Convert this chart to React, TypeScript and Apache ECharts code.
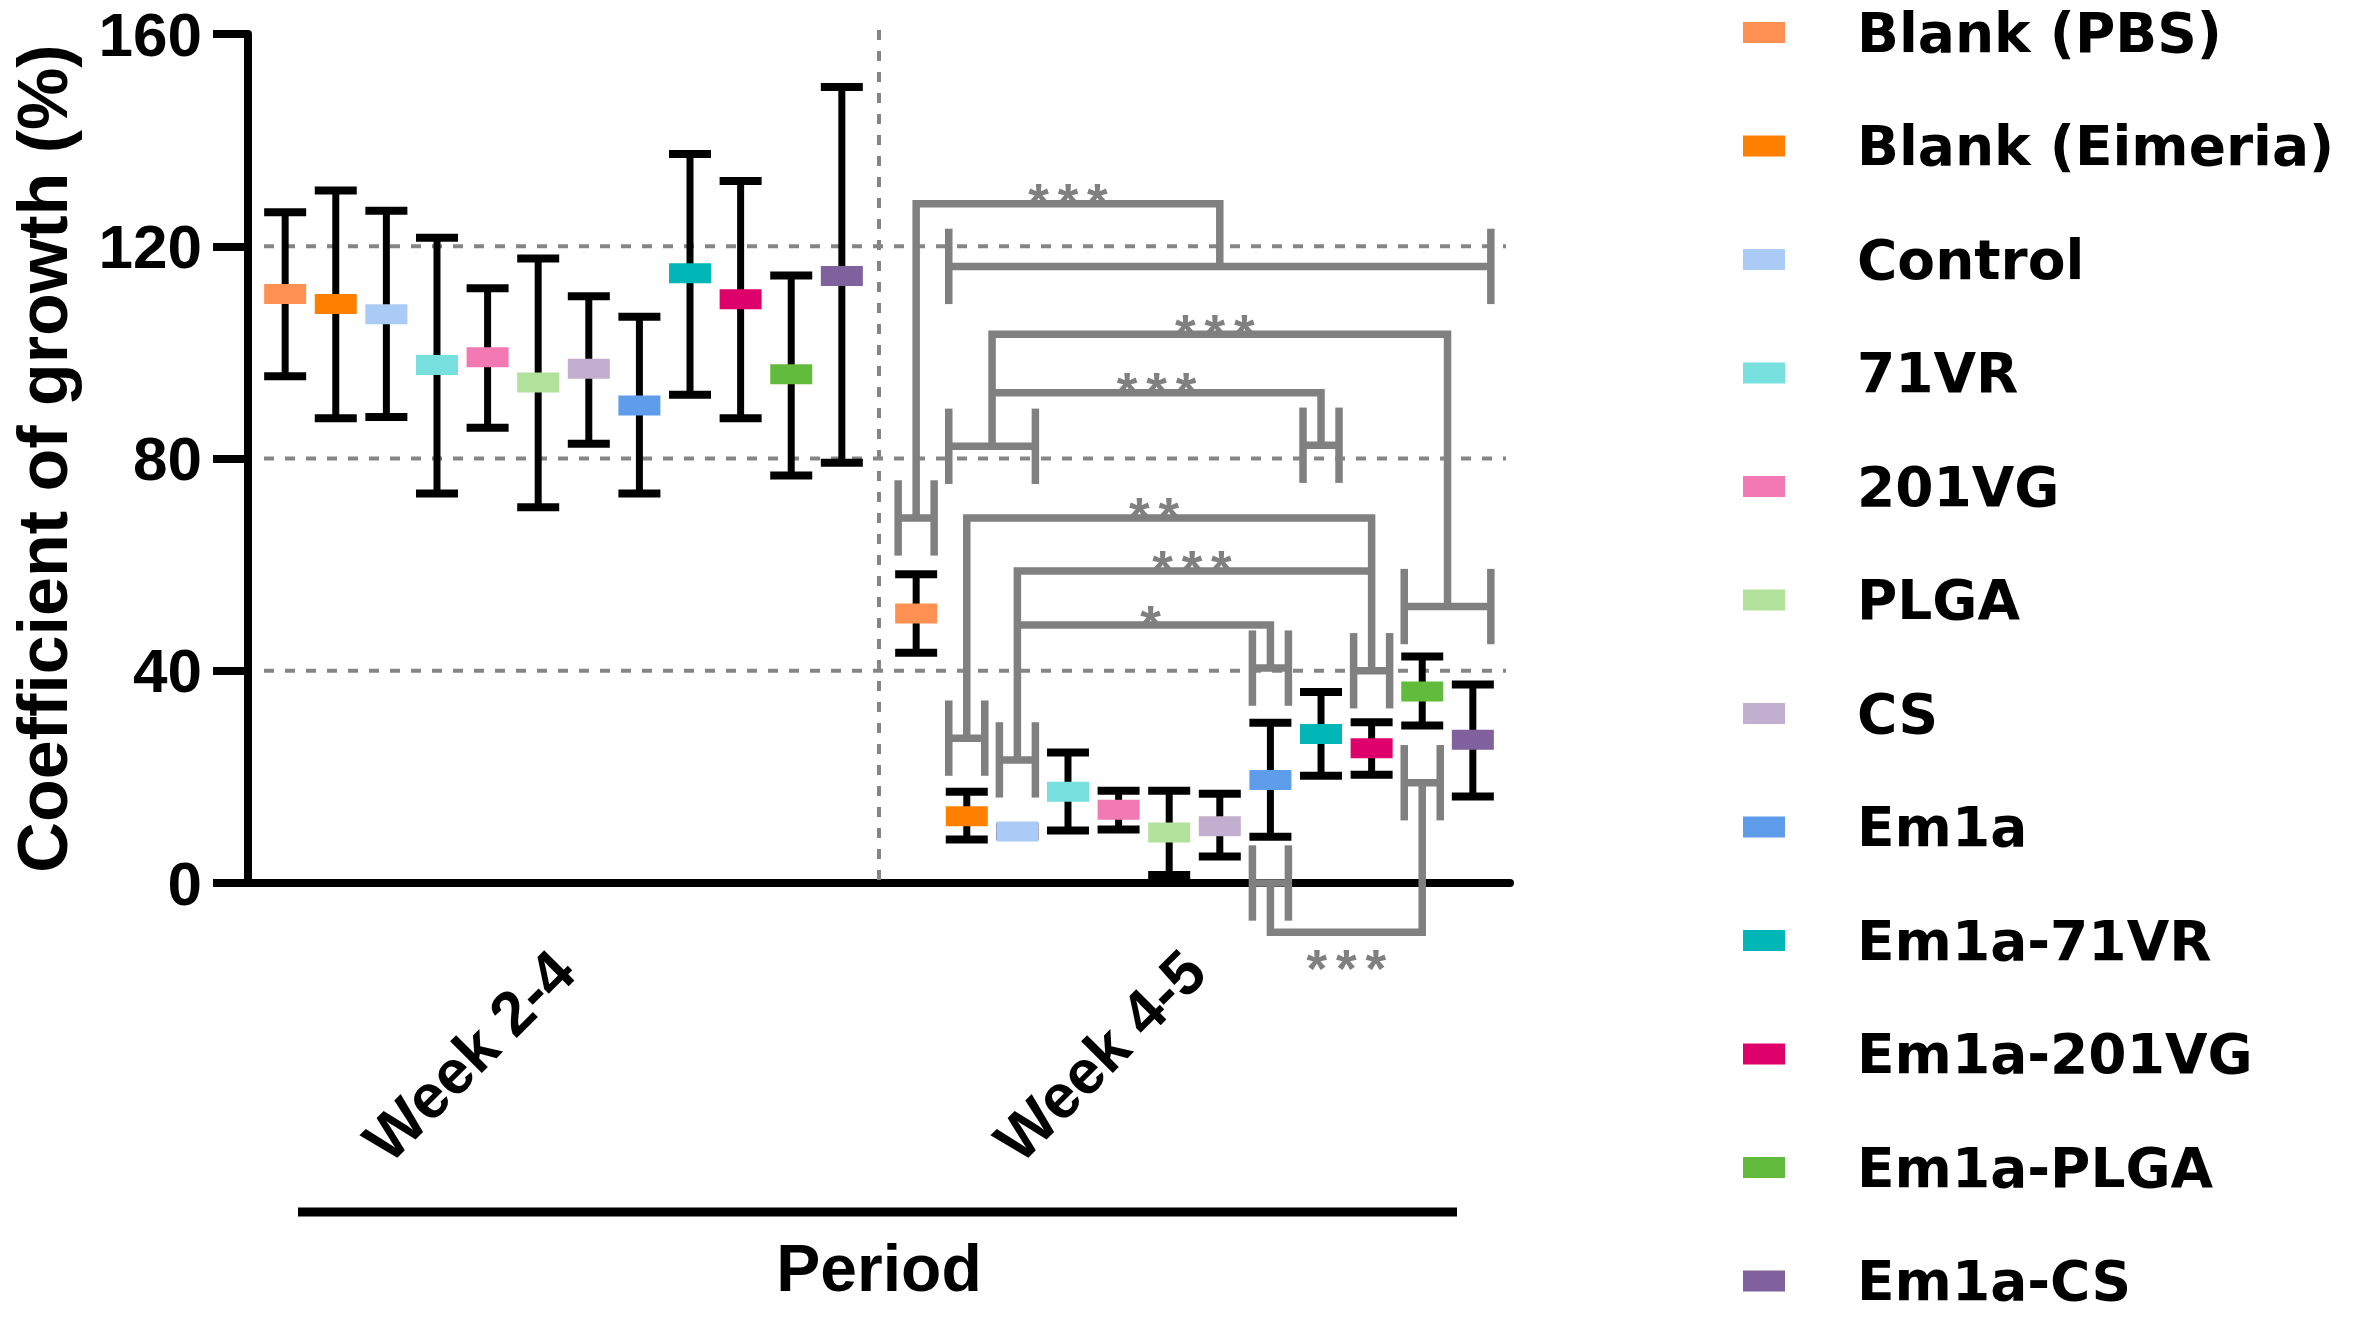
import React, { useEffect, useRef } from "react";
import * as echarts from "echarts";

const CATEGORIES = ["Week 2-4", "Week 4-5"];
const GROUPS = [
  "Blank (PBS)", "Blank (Eimeria)", "Control", "71VR", "201VG", "PLGA",
  "CS", "Em1a", "Em1a-71VR", "Em1a-201VG", "Em1a-PLGA", "Em1a-CS",
];
const COLORS = [
  "#FD9052", "#FF7F00", "#A9CBF6", "#77DFDD", "#F279B4", "#B1E19B",
  "#C2AECE", "#5F9DEB", "#00B6B6", "#DE006B", "#63BB3D", "#80619D",
];
// Week 2-4
const MEAN_W24 = [111.0, 109.1, 107.2, 97.6, 99.1, 94.3, 96.9, 90.0, 114.9, 110.0, 95.9, 114.4];
const LOW_W24 = [95.5, 87.6, 87.8, 73.4, 85.8, 70.8, 82.8, 73.4, 92.0, 87.6, 76.8, 79.2];
const HIGH_W24 = [126.4, 130.5, 126.7, 121.6, 112.1, 117.7, 110.6, 106.7, 137.4, 132.3, 114.5, 150.0];
// Week 4-5
const MEAN_W45 = [50.8, 12.6, 9.7, 17.2, 13.8, 9.5, 10.7, 19.4, 28.1, 25.4, 36.1, 27.0];
const LOW_W45 = [43.4, 8.2, 8.9, 9.9, 10.1, 1.5, 5.0, 8.7, 20.2, 20.4, 29.7, 16.3];
const HIGH_W45 = [58.2, 17.2, 10.5, 24.6, 17.4, 17.4, 16.8, 30.2, 36.0, 30.3, 42.7, 37.4];

const Y_MIN = 0;
const Y_MAX = 160;
const Y_INTERVAL = 40;
const GRID_VALUES = [40, 80, 120];

// significance annotations (Week 4-5): [slotFrom, slotTo, value]
const SIG_CAT = 1;
const SIG_H: [number, number, number][] = [
  [0, 0, 68.8], [1, 11, 116.2], [1, 2, 82.3], [10, 11, 52.1], [8, 8, 82.5],
  [1, 1, 27.3], [9, 9, 40.0], [2, 2, 23.2], [7, 7, 40.5], [7, 7, 0], [10, 10, 18.9],
];
const SIG_LINES: [number, number][][] = [
  [[0, 68.8], [0, 128], [6, 128], [6, 116.2]],
  [[1.5, 82.3], [1.5, 103.4], [10.5, 103.4], [10.5, 52.1]],
  [[1.5, 92.4], [8, 92.4], [8, 82.5]],
  [[1, 27.3], [1, 68.8], [9, 68.8], [9, 40.0]],
  [[2, 23.2], [2, 58.8], [9, 58.8]],
  [[2, 48.6], [7, 48.6], [7, 40.5]],
  [[7, 0], [7, -9.3], [10, -9.3], [10, 18.9]],
];
const SIG_STARS: [number, number, string][] = [
  [3, 130.7, "***"], [5.9, 106.1, "***"], [4.75, 95.0, "***"], [4.7, 71.5, "**"],
  [5.45, 61.5, "***"], [4.63, 51.1, "*"], [8.5, -13.6, "***"],
];
const H_HALF = 7.1;

const SLOT_FRAC = 0.0802;
const SIG_GRAY = "#808080";
const ARIAL = '"Liberation Sans", Arial, sans-serif';
const WIDE = '"DejaVu Sans", sans-serif';
const LEGEND_ROW = 113.5;

function slotX(api: any, cat: number, slot: number, v: number) {
  const band = api.size([1, 0])[0];
  return api.coord([cat, v])[0] + (slot - (GROUPS.length - 1) / 2) * band * SLOT_FRAC;
}

function legendBlock(names: string[], top: number) {
  return {
    orient: "vertical",
    left: 1738,
    top,
    height: 720,
    icon: "rect",
    itemWidth: 42,
    itemHeight: 21,
    itemGap: LEGEND_ROW - 55,
    selectedMode: false,
    data: names,
    textStyle: {
      fontFamily: WIDE,
      fontWeight: "bold",
      fontSize: 55,
      lineHeight: 55,
      color: "#000",
      padding: [0, 0, 0, 67],
    },
  };
}

export default function App() {
  const ref = useRef<HTMLDivElement>(null);
  useEffect(() => {
    if (!ref.current) return;
    const chart = echarts.init(ref.current, undefined, { renderer: "svg" });

    const groupSeries = GROUPS.map((name, gi) => ({
      type: "custom",
      name,
      clip: false,
      itemStyle: { color: COLORS[gi] },
      data: [
        [0, MEAN_W24[gi], LOW_W24[gi], HIGH_W24[gi]],
        [1, MEAN_W45[gi], LOW_W45[gi], HIGH_W45[gi]],
      ],
      renderItem: (params: any, api: any) => {
        const cat = api.value(0);
        const mean = api.value(1);
        const lo = api.value(2);
        const hi = api.value(3);
        const x = slotX(api, cat, gi, mean);
        const yM = api.coord([cat, mean])[1];
        const yL = api.coord([cat, lo])[1];
        const yH = api.coord([cat, hi])[1];
        const hw = 21;
        return {
          type: "group",
          children: [
            { type: "line", shape: { x1: x, y1: yL, x2: x, y2: yH }, style: { stroke: "#000", lineWidth: 7 } },
            { type: "line", shape: { x1: x - hw, y1: yH, x2: x + hw, y2: yH }, style: { stroke: "#000", lineWidth: 8 } },
            { type: "line", shape: { x1: x - hw, y1: yL, x2: x + hw, y2: yL }, style: { stroke: "#000", lineWidth: 8 } },
            { type: "rect", shape: { x: x - hw, y: yM - 10, width: hw * 2, height: 20 }, style: { fill: COLORS[gi] } },
          ],
        };
      },
    }));

    const gridSeries = {
      type: "custom",
      name: "grid-lines",
      clip: false,
      silent: true,
      z: 1,
      data: [[0, 0]],
      renderItem: (params: any, api: any) => {
        const band = api.size([1, 0])[0];
        const xL = api.coord([0, 0])[0] - band / 2;
        const xR = api.coord([CATEGORIES.length - 1, 0])[0] + band / 2;
        const xMid = (api.coord([0, 0])[0] + api.coord([1, 0])[0]) / 2;
        const dash = { stroke: "#858585", lineWidth: 4, lineDash: [10, 11] };
        const children: any[] = GRID_VALUES.map((v) => {
          const y = api.coord([0, v])[1];
          return { type: "line", shape: { x1: xL + 16, y1: y, x2: xR - 4, y2: y }, style: dash };
        });
        children.push({
          type: "line",
          shape: { x1: xMid, y1: api.coord([0, Y_MAX])[1] - 4, x2: xMid, y2: api.coord([0, Y_MIN])[1] },
          style: dash,
        });
        return { type: "group", children };
      },
    };

    const hSeries = {
      type: "custom",
      name: "sig-h",
      clip: false,
      silent: true,
      z: 3,
      data: SIG_H.map((h) => [SIG_CAT, h[2], h[0], h[1]]),
      renderItem: (params: any, api: any) => {
        const v = api.value(1);
        const s0 = api.value(2);
        const s1 = api.value(3);
        const xl = slotX(api, SIG_CAT, s0, v) - 18;
        const xr = slotX(api, SIG_CAT, s1, v) + 18;
        const y = api.coord([SIG_CAT, v])[1];
        const yt = api.coord([SIG_CAT, v + H_HALF])[1];
        const yb = api.coord([SIG_CAT, v - H_HALF])[1];
        const st = { stroke: SIG_GRAY, lineWidth: 7.5 };
        return {
          type: "group",
          children: [
            { type: "line", shape: { x1: xl, y1: y, x2: xr, y2: y }, style: st },
            { type: "line", shape: { x1: xl, y1: yt, x2: xl, y2: yb }, style: st },
            { type: "line", shape: { x1: xr, y1: yt, x2: xr, y2: yb }, style: st },
          ],
        };
      },
    };

    const lineSeries = {
      type: "custom",
      name: "sig-lines",
      clip: false,
      silent: true,
      z: 3,
      data: SIG_LINES.map((pts) => [SIG_CAT, pts[0][1]]),
      renderItem: (params: any, api: any) => {
        const pts = SIG_LINES[params.dataIndex].map(([s, v]) => [
          slotX(api, SIG_CAT, s, v),
          api.coord([SIG_CAT, v])[1],
        ]);
        return {
          type: "polyline",
          shape: { points: pts },
          style: { stroke: SIG_GRAY, lineWidth: 7.5, fill: null, lineJoin: "miter" },
        };
      },
    };

    const starSeries = {
      type: "custom",
      name: "sig-stars",
      clip: false,
      silent: true,
      z: 4,
      data: SIG_STARS.map((s) => [SIG_CAT, s[1], s[0]]),
      renderItem: (params: any, api: any) => {
        const v = api.value(1);
        const s = api.value(2);
        const txt = SIG_STARS[params.dataIndex][2].split("").join("\u2006");
        return {
          type: "text",
          x: slotX(api, SIG_CAT, s, v),
          y: api.coord([SIG_CAT, v])[1] + 13,
          style: {
            text: txt,
            fill: SIG_GRAY,
            fontSize: 53,
            fontWeight: "bold",
            lineHeight: 24,
            fontFamily: ARIAL,
            align: "center",
            verticalAlign: "middle",
          },
        };
      },
    };

    chart.setOption({
      animation: false,
      backgroundColor: "#ffffff",
      grid: { left: 243, top: 34, width: 1267, height: 849, containLabel: false },
      legend: [
        legendBlock(GROUPS.slice(0, 6), 0),
        legendBlock(GROUPS.slice(6), 6 * LEGEND_ROW),
      ],
      xAxis: {
        type: "category",
        data: CATEGORIES,
        name: "Period",
        nameLocation: "middle",
        nameGap: 352,
        nameTextStyle: { fontFamily: ARIAL, fontWeight: "bold", fontSize: 66, color: "#000" },
        axisLine: { lineStyle: { color: "#000", width: 8 } },
        axisTick: { alignWithLabel: true, length: 35, lineStyle: { color: "#000", width: 8 } },
        axisLabel: {
          rotate: 45,
          margin: 78,
          fontFamily: ARIAL,
          fontWeight: "bold",
          fontSize: 62,
          color: "#000",
        },
        splitLine: { show: false },
      },
      yAxis: {
        type: "value",
        min: Y_MIN,
        max: Y_MAX,
        interval: Y_INTERVAL,
        name: "Coefficient of growth (%)",
        nameLocation: "middle",
        nameGap: 170,
        nameTextStyle: { fontFamily: ARIAL, fontWeight: "bold", fontSize: 70, color: "#000" },
        axisLine: { show: true, lineStyle: { color: "#000", width: 8 } },
        axisTick: { show: true, length: 35, lineStyle: { color: "#000", width: 8 } },
        axisLabel: { margin: 46, fontFamily: ARIAL, fontWeight: "bold", fontSize: 62, color: "#000" },
        splitLine: { show: false },
      },
      graphic: [
        {
          type: "line",
          shape: { x1: 298, y1: 1212, x2: 1457, y2: 1212 },
          style: { stroke: "#000", lineWidth: 9 },
        },
      ],
      series: [gridSeries, ...groupSeries, hSeries, lineSeries, starSeries],
    });

    return () => chart.dispose();
  }, []);

  return (
    <div
      ref={ref}
      style={{ position: "absolute", left: 0, top: 0, width: 2362, height: 1320, background: "#fff" }}
    />
  );
}
